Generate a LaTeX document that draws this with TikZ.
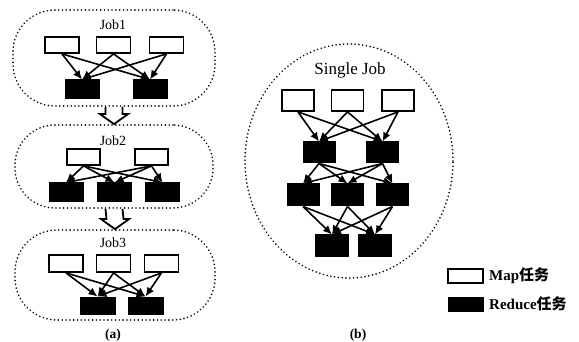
\documentclass[tikz,border=0pt]{standalone}
\usepackage{fontspec}
\setmainfont{Liberation Serif}
\newfontfamily\cjk{Noto Sans CJK SC}
\usetikzlibrary{arrows.meta,calc,shapes.geometric}
\tikzset{
  mapbox/.style={draw=black,line width=1.8pt,fill=white,inner sep=0pt},
  redbox/.style={draw=black,line width=1pt,fill=black,inner sep=0pt},
  flow/.style={line width=1.6pt,-{Latex[length=9pt,width=8pt]}},
  jobline/.style={line width=1.8pt,dash pattern=on 0.01pt off 3.8pt,line cap=round},
  blockarrow/.style={draw=black,line width=1.8pt,fill=white,line join=miter},
  joblabel/.style={font=\fontsize{14}{15}\selectfont},
  caption/.style={font=\bfseries\fontsize{13.5}{14}\selectfont},
  legendtext/.style={anchor=west,inner sep=0pt,font=\bfseries\fontsize{15}{16}\selectfont},
}
\begin{document}
\begin{tikzpicture}[x=1pt,y=-1pt]
\useasboundingbox (0,0) rectangle (579,342);

% --- (a): three chained jobs ---
\node[jobline,draw,rounded corners=42pt,minimum width=202pt,minimum height=96pt] (j1) at (114,58) {};
\node[jobline,draw,rounded corners=40pt,minimum width=198pt,minimum height=83pt] (j2) at (114,166.5) {};
\node[jobline,draw,rounded corners=42pt,minimum width=200pt,minimum height=90pt] (j3) at (115,275) {};

\node[joblabel] (l1) at (113,25) {Job1};
\node[joblabel] (l2) at (113,141) {Job2};
\node[joblabel] (l3) at (113,243) {Job3};

% Job1
\foreach \n/\x in {1/62,2/113.5,3/166.5}
  \node[mapbox,minimum width=34pt,minimum height=16pt] (a1m\n) at (\x,45) {};
\foreach \n/\x in {1/82,2/150}
  \node[redbox,minimum width=34pt,minimum height=19pt] (a1r\n) at (\x,89.5) {};
\foreach \m in {1,2,3}
  \foreach \r in {1,2}
    \draw[flow] (a1m\m.south) -- (a1r\r.north);

% Job2
\foreach \n/\x in {1/83.5,2/151.5}
  \node[mapbox,minimum width=33pt,minimum height=16pt] (a2m\n) at (\x,157) {};
\foreach \n/\x in {1/66,2/114.5,3/162.5}
  \node[redbox,minimum width=34pt,minimum height=19pt] (a2r\n) at (\x,192.5) {};
\foreach \m in {1,2}
  \foreach \r in {1,2,3}
    \draw[flow] (a2m\m.south) -- (a2r\r.north);

% Job3
\foreach \n/\x in {1/66,2/113.5,3/161.5}
  \node[mapbox,minimum width=34pt,minimum height=17pt] (a3m\n) at (\x,263.5) {};
\foreach \n/\x in {1/97.5,2/145.5}
  \node[redbox,minimum width=35pt,minimum height=17pt] (a3r\n) at (\x,305.5) {};
\foreach \m in {1,2,3}
  \foreach \r in {1,2}
    \draw[flow] (a3m\m.south) -- (a3r\r.north);

% hollow arrows between the jobs
\draw[blockarrow] ($(j1.south)+(-8.5,0)$) -- ($(j2.north)+(-8.5,-10)$) -- ($(j2.north)+(-14,-10)$)
  -- (j2.north) -- ($(j2.north)+(14,-10)$) -- ($(j2.north)+(8.5,-10)$) -- ($(j1.south)+(8.5,0)$);
\draw[blockarrow] ($(j2.south)+(-8.5,0)$) -- ($(j3.north)+(-8.5,-10)$) -- ($(j3.north)+(-14,-10)$)
  -- (j3.north) -- ($(j3.north)+(14,-10)$) -- ($(j3.north)+(8.5,-10)$) -- ($(j2.south)+(8.5,0)$);

\node[caption] (capa) at (113,335) {(a)};

% --- (b): one job with several reduce stages ---
\node[jobline,draw,ellipse,minimum width=208pt,minimum height=234pt] (sj) at (349,161) {};
\node[font=\fontsize{17}{18}\selectfont] (sl) at (350,70) {Single Job};

\foreach \n/\x in {1/298,2/347.5,3/398}
  \node[mapbox,minimum width=32pt,minimum height=21pt] (bm\n) at (\x,100.5) {};
\foreach \n/\x in {1/319,2/382.5}
  \node[redbox,minimum width=32pt,minimum height=21pt] (bp\n) at (\x,152.5) {};
\foreach \n/\x in {1/303,2/347.5,3/392.5}
  \node[redbox,minimum width=32pt,minimum height=22pt] (bq\n) at (\x,195) {};
\foreach \n/\x in {1/332,2/375}
  \node[redbox,minimum width=33pt,minimum height=22pt] (bs\n) at (\x,246) {};

\foreach \m in {1,2,3}
  \foreach \r in {1,2}
    \draw[flow] (bm\m.south) -- (bp\r.north);
\foreach \m in {1,2}
  \foreach \r in {1,2,3}
    \draw[flow] (bp\m.south) -- (bq\r.north);
\foreach \m in {1,2,3}
  \foreach \r in {1,2}
    \draw[flow] (bq\m.south) -- (bs\r.north);

\node[caption] (capb) at (358,335) {(b)};

% --- legend ---
\node[mapbox,minimum width=35pt,minimum height=14pt] (kmap) at (465.5,276) {};
\node[redbox,minimum width=35pt,minimum height=14pt] (kred) at (465.5,304) {};
\node[legendtext] (kmapt) at (489,276) {Map{\cjk\bfseries 任务}};
\node[legendtext] (kredt) at (489,304) {Reduce{\cjk\bfseries 任务}};
\end{tikzpicture}
\end{document}
